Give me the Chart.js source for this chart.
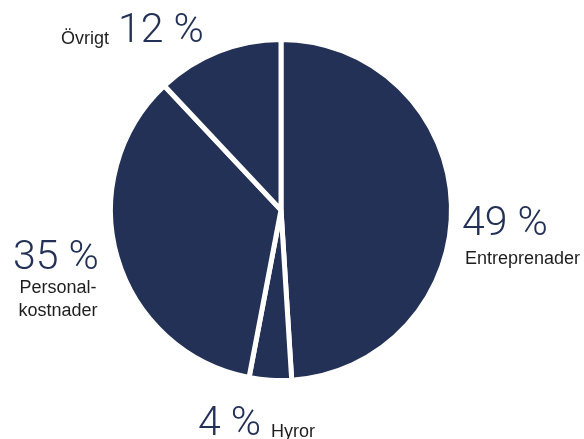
<!DOCTYPE html>
<html>
<head>
<meta charset="utf-8">
<script src="https://cdn.jsdelivr.net/npm/chart.js@4/dist/chart.umd.min.js"></script>
<style>
  html, body { margin: 0; padding: 0; background: #fff; }
  #wrap { width: 584px; height: 439px; position: relative; }
</style>
</head>
<body>
<div id="wrap"><canvas id="costChart"></canvas></div>
<script>
  // cost split, share of total (%)
  var categories = ["Entreprenader", "Hyror", "Personalkostnader", "Övrigt"];
  var shares = [49, 4, 35, 12];
  // text shown beside each slice
  var pctLabels = ["49 %", "4 %", "35 %", "12 %"];
  var nameLabels = [["Entreprenader"], ["Hyror"], ["Personal-", "kostnader"], ["Övrigt"]];

  var navy = "#243156";
  var bigFont = "300 41px Roboto, 'Liberation Sans', sans-serif";
  var smallFont = "18px 'Liberation Sans', Arial, sans-serif";

  // where the texts sit around the pie
  var labelPlacement = [
    { pct: [462, 235], name: [465, 264], nameAlign: "left" },
    { pct: [198, 435], name: [271, 437], nameAlign: "left" },
    { pct: [13, 269], name: [58, 293], nameAlign: "center", lineGap: 23 },
    { pct: [118, 42], name: [61, 44], nameAlign: "left" }
  ];

  var sliceLabels = {
    id: "sliceLabels",
    afterDraw: function (chart) {
      var ctx = chart.ctx;
      ctx.save();
      ctx.textBaseline = "alphabetic";
      labelPlacement.forEach(function (p, i) {
        ctx.font = bigFont;
        ctx.fillStyle = navy;
        ctx.textAlign = "left";
        ctx.fillText(pctLabels[i], p.pct[0], p.pct[1]);

        ctx.font = smallFont;
        ctx.fillStyle = "#1e1e1e";
        ctx.textAlign = p.nameAlign;
        nameLabels[i].forEach(function (line, k) {
          ctx.fillText(line, p.name[0], p.name[1] + k * (p.lineGap || 0));
        });
      });
      ctx.restore();
    }
  };

  new Chart(document.getElementById("costChart"), {
    type: "pie",
    data: {
      labels: categories,
      datasets: [{
        data: shares,
        backgroundColor: navy,
        borderColor: "#ffffff",
        borderWidth: 5,
        hoverOffset: 0
      }]
    },
    options: {
      responsive: true,
      maintainAspectRatio: false,
      animation: false,
      layout: { padding: { top: 37, bottom: 56, left: 108, right: 130 } },
      plugins: {
        legend: { display: false },
        tooltip: { enabled: false }
      }
    },
    plugins: [sliceLabels]
  });
</script>
</body>
</html>
